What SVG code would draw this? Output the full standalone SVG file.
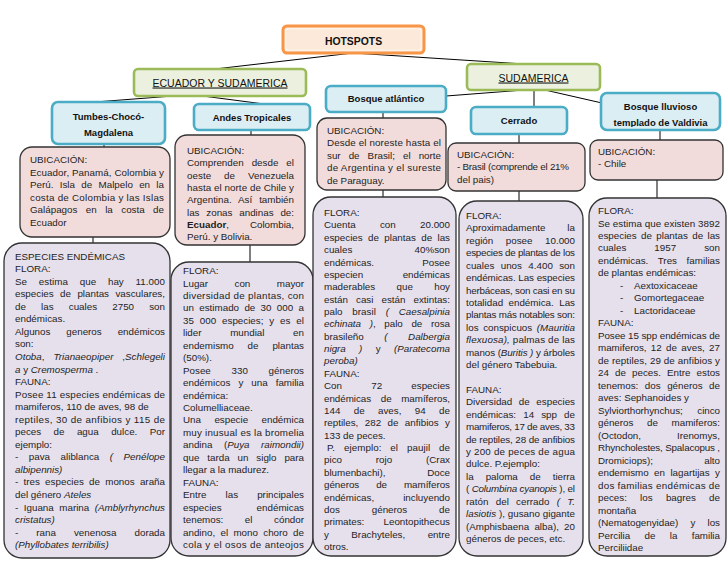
<svg xmlns="http://www.w3.org/2000/svg" width="728" height="563" viewBox="0 0 728 563">
<style>
.t{font-family:"Liberation Sans",Arial,sans-serif;font-size:9.8px;fill:#1e1e1e}
.i{font-style:italic}
.b{font-weight:bold}
.h{font-family:"Liberation Sans",Arial,sans-serif;font-size:9.5px;font-weight:bold;fill:#111;text-anchor:middle}
.g{font-family:"Liberation Sans",Arial,sans-serif;font-size:10.5px;fill:#111;text-anchor:middle;text-decoration:underline}
.blue{fill:#DBEEF4;stroke:#4BACC6;stroke-width:2.6}
.green{fill:#EBF1DE;stroke:#9BBB59;stroke-width:2.6}
.orange{fill:#FDE9D9;stroke:#F79646;stroke-width:3}
.pink{fill:#F2DCDB;stroke:#333;stroke-width:1.3}
.lil{fill:#E6E0EC;stroke:#333;stroke-width:1.3}
.c{stroke:#000;stroke-width:1;fill:none}
</style>
<defs>
<clipPath id="clipV"><rect x="601" y="93" width="119" height="34"/></clipPath>
</defs>
<rect width="728" height="563" fill="#fff"/>
<g id="connectors">
<path class="c" d="M353,53 L215,69 M353,53 L524,64 M186,95 L95,102 M195,95 L264,104 M524,90 L446,96 M534,90 L534,107 M545,90 L602,103"/>
<path class="c" d="M104,144 V147 M93,237 V243 M251,130 V135 M250,245 V262 M383,112 V118 M383,190 V197 M519,134 V143 M519,191 V201 M660,130 V140 M657,180 V198"/>
</g>
<g id="n-hotspots">
<rect class="orange" x="283" y="26" width="141" height="27" rx="4"/>
<rect x="285.8" y="28.8" width="135.4" height="21.4" rx="3" fill="none" stroke="#fff" stroke-width="0.8" opacity="0.8"/>
<text class="h" x="353.5" y="44.5" style="font-size:10.4px">HOTSPOTS</text>
</g>
<g id="n-ecuador">
<rect class="green" x="134" y="69" width="172" height="27" rx="4"/>
<text class="g" x="220" y="86.5">ECUADOR Y SUDAMERICA</text>
</g>
<g id="n-sudamerica">
<rect class="green" x="467" y="64" width="133" height="26" rx="4"/>
<text class="g" x="533.5" y="81.5">SUDAMERICA</text>
</g>
<g id="n-atlantico">
<rect class="blue" x="326" y="86" width="120" height="26" rx="5"/>
<text class="h" x="386" y="102">Bosque atlántico</text>
</g>
<g id="n-tumbes">
<rect class="blue" x="52" y="102" width="113" height="42" rx="6"/>
<text class="h" x="108.5" y="120">Tumbes-Chocó-</text>
<text class="h" x="108.5" y="136">Magdalena</text>
</g>
<g id="n-andes">
<rect class="blue" x="194" y="104" width="116" height="26" rx="5"/>
<text class="h" x="252" y="120.5">Andes Tropicales</text>
</g>
<g id="n-cerrado">
<rect class="blue" x="471" y="107" width="96" height="27" rx="5"/>
<text class="h" x="519" y="124">Cerrado</text>
</g>
<g id="n-valdivia">
<rect class="blue" x="601" y="93" width="119" height="37" rx="6"/>
<text class="h" x="660.5" y="109.5">Bosque lluvioso</text>
<text class="h" x="660.5" y="125.5" clip-path="url(#clipV)">templado de Valdivia</text>
</g>
<g id="n-tumbes-ubicacion">
<rect class="pink" x="20" y="147" width="150" height="90" rx="12"/>
<text class="t" x="30" y="163">UBICACIÓN:</text>
<text class="t" x="30" y="175.5" textLength="134" lengthAdjust="spacing">Ecuador, Panamá, Colombia y</text>
<text class="t" x="30" y="188" textLength="134" lengthAdjust="spacing" word-spacing="3.6">Perú. Isla de Malpelo en la</text>
<text class="t" x="30" y="200.5" textLength="134" lengthAdjust="spacing">costa de Colombia y las Islas</text>
<text class="t" x="30" y="213" textLength="134" lengthAdjust="spacing" word-spacing="5.7">Galápagos en la costa de</text>
<text class="t" x="30" y="225.5">Ecuador</text>
</g>
<g id="n-andes-ubicacion">
<rect class="pink" x="175" y="135" width="130" height="110" rx="12"/>
<text class="t" x="187" y="154">UBICACIÓN:</text>
<text class="t" x="187" y="166.3" textLength="107" lengthAdjust="spacing" word-spacing="5.3">Comprenden desde el</text>
<text class="t" x="187" y="178.6" textLength="107" lengthAdjust="spacing" word-spacing="10.2">oeste de Venezuela</text>
<text class="t" x="187" y="190.9" textLength="107" lengthAdjust="spacing">hasta el norte de Chile y</text>
<text class="t" x="187" y="203.2" textLength="107" lengthAdjust="spacing" word-spacing="4.2">Argentina. Así también</text>
<text class="t" x="187" y="215.5" textLength="107" lengthAdjust="spacing" word-spacing="4.1">las zonas andinas de:</text>
<text class="t" x="187" y="227.8"><tspan class="b">Ecuador</tspan>,</text>
<text class="t" x="294" y="227.8" text-anchor="end">Colombia,</text>
<text class="t" x="187" y="240.1">Perú. y Bolivia.</text>
</g>
<g id="n-atlantico-ubicacion">
<rect class="pink" x="317" y="118" width="129" height="72" rx="10"/>
<text class="t" x="327" y="134">UBICACIÓN:</text>
<text class="t" x="327" y="146.4" textLength="114" lengthAdjust="spacing">Desde el noreste hasta el</text>
<text class="t" x="327" y="158.8" textLength="114" lengthAdjust="spacing" word-spacing="5.3">sur de Brasil; el norte</text>
<text class="t" x="327" y="171.2" textLength="114" lengthAdjust="spacing">de Argentina y el sureste</text>
<text class="t" x="327" y="183.6">de Paraguay.</text>
</g>
<g id="n-cerrado-ubicacion">
<rect class="pink" x="448" y="143" width="137" height="48" rx="8"/>
<text class="t" x="457" y="158">UBICACIÓN:</text>
<text class="t" x="457" y="170.4" textLength="112" lengthAdjust="spacing">- Brasil (comprende el 21%</text>
<text class="t" x="457" y="182.8">del pais)</text>
</g>
<g id="n-valdivia-ubicacion">
<rect class="pink" x="590" y="140" width="133" height="40" rx="8"/>
<text class="t" x="598" y="155">UBICACIÓN:</text>
<text class="t" x="598" y="167.4">- Chile</text>
</g>
<g id="n-tumbes-especies">
<rect class="lil" x="4" y="243" width="166" height="315" rx="18"/>
<text class="t" x="15" y="259.5">ESPECIES ENDÉMICAS</text>
<text class="t" x="15" y="272.1">FLORA:</text>
<text class="t" x="15" y="284.6" textLength="150" lengthAdjust="spacing" word-spacing="9">Se estima que hay 11.000</text>
<text class="t" x="15" y="297.2" textLength="150" lengthAdjust="spacing" word-spacing="3.7">especies de plantas vasculares,</text>
<text class="t" x="15" y="309.7" textLength="150" lengthAdjust="spacing" word-spacing="12.4">de las cuales 2750 son</text>
<text class="t" x="15" y="322.3">endémicas.</text>
<text class="t" x="15" y="334.8" textLength="150" lengthAdjust="spacing" word-spacing="13.2">Algunos generos endémicos</text>
<text class="t" x="15" y="347.4">son:</text>
<text class="t" x="15" y="359.9" textLength="150" lengthAdjust="spacing" word-spacing="6.1"><tspan class="i">Otoba</tspan>, <tspan class="i">Trianaeopiper</tspan> ,<tspan class="i">Schlegeli</tspan></text>
<text class="t" x="15" y="372.5"><tspan class="i">a</tspan> y <tspan class="i">Cremosperma</tspan> .</text>
<text class="t" x="15" y="385">FAUNA:</text>
<text class="t" x="15" y="397.6" textLength="150" lengthAdjust="spacing">Posee 11 especies endémicas de</text>
<text class="t" x="15" y="410.1">mamiferos, 110 de aves, 98 de</text>
<text class="t" x="15" y="422.7" textLength="150" lengthAdjust="spacing">reptiles, 30 de anfibios y 115 de</text>
<text class="t" x="15" y="435.2" textLength="150" lengthAdjust="spacing" word-spacing="9.7">peces de agua dulce. Por</text>
<text class="t" x="15" y="447.8">ejemplo:</text>
<text class="t" x="15" y="460.3" textLength="150" lengthAdjust="spacing" word-spacing="7.8">- pava aliblanca <tspan class="i">( Penélope</tspan></text>
<text class="t i" x="15" y="472.9">albipennis)</text>
<text class="t" x="15" y="485.4" textLength="150" lengthAdjust="spacing" word-spacing="2.5">- tres especies de monos araña</text>
<text class="t" x="15" y="498">del género <tspan class="i">Ateles</tspan></text>
<text class="t" x="15" y="510.5" textLength="150" lengthAdjust="spacing" word-spacing="2.8">- Iguana marina <tspan class="i">(Amblyrhynchus</tspan></text>
<text class="t i" x="15" y="523.1">cristatus)</text>
<text class="t" x="15" y="535.6" textLength="150" lengthAdjust="spacing" word-spacing="15.3">- rana venenosa dorada</text>
<text class="t i" x="15" y="548.2">(Phyllobates terribilis)</text>
</g>
<g id="n-andes-flora">
<rect class="lil" x="171" y="262" width="142" height="294" rx="18"/>
<text class="t" x="183" y="274">FLORA:</text>
<text class="t" x="183" y="286.5" textLength="121" lengthAdjust="spacing" word-spacing="23.7">Lugar con mayor</text>
<text class="t" x="183" y="298.9" textLength="121" lengthAdjust="spacing">diversidad de plantas, con</text>
<text class="t" x="183" y="311.4" textLength="121" lengthAdjust="spacing" word-spacing="2.6">un estimado de 30 000 a</text>
<text class="t" x="183" y="323.8" textLength="121" lengthAdjust="spacing" word-spacing="3.2">35 000 especies; y es el</text>
<text class="t" x="183" y="336.3" textLength="121" lengthAdjust="spacing" word-spacing="25.9">lider mundial en</text>
<text class="t" x="183" y="348.7" textLength="121" lengthAdjust="spacing" word-spacing="11.2">endemismo de plantas</text>
<text class="t" x="183" y="361.2">(50%).</text>
<text class="t" x="183" y="373.6" textLength="121" lengthAdjust="spacing" word-spacing="18">Posee 330 géneros</text>
<text class="t" x="183" y="386.1" textLength="121" lengthAdjust="spacing" word-spacing="5.3">endémicos y una familia</text>
<text class="t" x="183" y="398.5">endémica:</text>
<text class="t" x="183" y="411">Columelliaceae.</text>
<text class="t" x="183" y="423.4" textLength="121" lengthAdjust="spacing" word-spacing="10.7">Una especie endémica</text>
<text class="t" x="183" y="435.9" textLength="121" lengthAdjust="spacing">muy inusual es la bromelia</text>
<text class="t" x="183" y="448.3" textLength="121" lengthAdjust="spacing" word-spacing="8.8">andina (<tspan class="i">Puya raimondii)</tspan></text>
<text class="t" x="183" y="460.8" textLength="121" lengthAdjust="spacing" word-spacing="5.2">que tarda un siglo para</text>
<text class="t" x="183" y="473.2">llegar a la madurez.</text>
<text class="t" x="183" y="485.7">FAUNA:</text>
<text class="t" x="183" y="498.1" textLength="121" lengthAdjust="spacing" word-spacing="16.4">Entre las principales</text>
<text class="t" x="183" y="510.6" textLength="121" lengthAdjust="spacing" word-spacing="32.2">especies endémicas</text>
<text class="t" x="183" y="523" textLength="121" lengthAdjust="spacing" word-spacing="18.8">tenemos: el cóndor</text>
<text class="t" x="183" y="535.5" textLength="121" lengthAdjust="spacing" word-spacing="2.6">andino, el mono choro de</text>
<text class="t" x="183" y="547.9" textLength="121" lengthAdjust="spacing">cola y el osos de anteojos</text>
</g>
<g id="n-atlantico-flora">
<rect class="lil" x="313" y="197" width="143" height="359" rx="18"/>
<text class="t" x="324" y="216">FLORA:</text>
<text class="t" x="324" y="228.4" textLength="126" lengthAdjust="spacing" word-spacing="21.6">Cuenta con 20.000</text>
<text class="t" x="324" y="240.7" textLength="126" lengthAdjust="spacing" word-spacing="2.6">especies de plantas de las</text>
<text class="t" x="324" y="253.1" textLength="126" lengthAdjust="spacing" word-spacing="59.5">cuales 40%son</text>
<text class="t" x="324" y="265.5" textLength="126" lengthAdjust="spacing" word-spacing="45.4">endémicas. Posee</text>
<text class="t" x="324" y="277.9" textLength="126" lengthAdjust="spacing" word-spacing="36.7">especien endémicas</text>
<text class="t" x="324" y="290.2" textLength="126" lengthAdjust="spacing" word-spacing="18.6">maderables que hoy</text>
<text class="t" x="324" y="302.6" textLength="126" lengthAdjust="spacing" word-spacing="5.3">están casi están extintas:</text>
<text class="t" x="324" y="315" textLength="126" lengthAdjust="spacing" word-spacing="7.1">palo brasil <tspan class="i">( Caesalpinia</tspan></text>
<text class="t" x="324" y="327.3" textLength="126" lengthAdjust="spacing" word-spacing="5.9"><tspan class="i">echinata )</tspan>, palo de rosa</text>
<text class="t" x="324" y="339.7" textLength="126" lengthAdjust="spacing" word-spacing="17.8">brasileño <tspan class="i">( Dalbergia</tspan></text>
<text class="t" x="324" y="352.1" textLength="126" lengthAdjust="spacing" word-spacing="10.6"><tspan class="i">nigra )</tspan> y <tspan class="i">(Paratecoma</tspan></text>
<text class="t i" x="324" y="364.4">peroba)</text>
<text class="t" x="324" y="376.8">FAUNA:</text>
<text class="t" x="324" y="389.2" textLength="126" lengthAdjust="spacing" word-spacing="26.5">Con 72 especies</text>
<text class="t" x="324" y="401.6" textLength="126" lengthAdjust="spacing" word-spacing="6.9">endémicas de mamíferos,</text>
<text class="t" x="324" y="413.9" textLength="126" lengthAdjust="spacing" word-spacing="10.6">144 de aves, 94 de</text>
<text class="t" x="324" y="426.3" textLength="126" lengthAdjust="spacing" word-spacing="3.7">reptiles, 282 de anfibios y</text>
<text class="t" x="324" y="438.7">133 de peces.</text>
<text class="t" x="327" y="451" textLength="123" lengthAdjust="spacing" word-spacing="6.1">P. ejemplo: el paujil de</text>
<text class="t" x="324" y="463.4" textLength="126" lengthAdjust="spacing" word-spacing="31.1">pico rojo (Crax</text>
<text class="t" x="324" y="475.8" textLength="126" lengthAdjust="spacing" word-spacing="38.9">blumenbachi), Doce</text>
<text class="t" x="324" y="488.1" textLength="126" lengthAdjust="spacing" word-spacing="14.3">géneros de mamíferos</text>
<text class="t" x="324" y="500.5" textLength="126" lengthAdjust="spacing" word-spacing="26.3">endémicas, incluyendo</text>
<text class="t" x="324" y="512.9" textLength="126" lengthAdjust="spacing" word-spacing="29.2">dos géneros de</text>
<text class="t" x="324" y="525.3" textLength="126" lengthAdjust="spacing" word-spacing="16.5">primates: Leontopithecus</text>
<text class="t" x="324" y="537.6" textLength="126" lengthAdjust="spacing" word-spacing="19.7">y Brachyteles, entre</text>
<text class="t" x="324" y="550">otros.</text>
</g>
<g id="n-cerrado-flora">
<rect class="lil" x="459" y="201" width="124" height="355" rx="18"/>
<text class="t" x="466" y="219">FLORA:</text>
<text class="t" x="466" y="231.4" textLength="109" lengthAdjust="spacing" word-spacing="19.1">Aproximadamente la</text>
<text class="t" x="466" y="243.8" textLength="109" lengthAdjust="spacing" word-spacing="9.8">región posee 10.000</text>
<text class="t" x="466" y="256.3" textLength="109" lengthAdjust="spacing">especies de plantas de los</text>
<text class="t" x="466" y="268.7" textLength="109" lengthAdjust="spacing" word-spacing="3.6">cuales unos 4.400 son</text>
<text class="t" x="466" y="281.1" textLength="109" lengthAdjust="spacing">endémicas. Las especies</text>
<text class="t" x="466" y="293.5" textLength="109" lengthAdjust="spacing">herbáceas, son casi en su</text>
<text class="t" x="466" y="305.9" textLength="109" lengthAdjust="spacing" word-spacing="2.7">totalidad endémica. Las</text>
<text class="t" x="466" y="318.4" textLength="109" lengthAdjust="spacing">plantas más notables son:</text>
<text class="t" x="466" y="330.8" textLength="109" lengthAdjust="spacing" word-spacing="1.9">los conspicuos <tspan class="i">(Mauritia</tspan></text>
<text class="t" x="466" y="343.2" textLength="109" lengthAdjust="spacing"><tspan class="i">flexuosa),</tspan> palmas de las</text>
<text class="t" x="466" y="355.6" textLength="109" lengthAdjust="spacing">manos (<tspan class="i">Buritis )</tspan> y árboles</text>
<text class="t" x="466" y="368">del género Tabebuia.</text>
<text class="t" x="466" y="392.9">FAUNA:</text>
<text class="t" x="466" y="405.3" textLength="109" lengthAdjust="spacing" word-spacing="3.9">Diversidad de especies</text>
<text class="t" x="466" y="417.7" textLength="109" lengthAdjust="spacing" word-spacing="4.4">endémicas: 14 spp de</text>
<text class="t" x="466" y="430.1" textLength="109" lengthAdjust="spacing">mamiferos, 17 de aves, 33</text>
<text class="t" x="466" y="442.6" textLength="109" lengthAdjust="spacing">de reptiles, 28 de anfibios</text>
<text class="t" x="466" y="455" textLength="109" lengthAdjust="spacing">y 200 de peces de agua</text>
<text class="t" x="466" y="467.4">dulce. P.ejemplo:</text>
<text class="t" x="466" y="479.8" textLength="109" lengthAdjust="spacing" word-spacing="9.3">la paloma de tierra</text>
<text class="t" x="466" y="492.2" textLength="109" lengthAdjust="spacing">( <tspan class="i">Columbina cyanopis</tspan> ), el</text>
<text class="t" x="466" y="504.7" textLength="109" lengthAdjust="spacing" word-spacing="4.4">ratón del cerrado <tspan class="i">( T.</tspan></text>
<text class="t" x="466" y="517.1" textLength="109" lengthAdjust="spacing"><tspan class="i">lasiotis</tspan> ), gusano gigante</text>
<text class="t" x="466" y="529.5" textLength="109" lengthAdjust="spacing" word-spacing="2.5">(Amphisbaena alba), 20</text>
<text class="t" x="466" y="541.9">géneros de peces, etc.</text>
</g>
<g id="n-valdivia-flora">
<rect class="lil" x="589" y="198" width="137" height="358" rx="18"/>
<text class="t" x="598" y="214">FLORA:</text>
<text class="t" x="598" y="226.5" textLength="122" lengthAdjust="spacing">Se estima que existen 3892</text>
<text class="t" x="598" y="239" textLength="122" lengthAdjust="spacing" word-spacing="1.6">especies de plantas de las</text>
<text class="t" x="598" y="251.4" textLength="122" lengthAdjust="spacing" word-spacing="25.3">cuales 1957 son</text>
<text class="t" x="598" y="263.9" textLength="122" lengthAdjust="spacing" word-spacing="6.8">endémicas. Tres familias</text>
<text class="t" x="598" y="276.4">de plantas endémicas:</text>
<text class="t" x="620" y="288.9">-</text><text class="t" x="634" y="288.9">Aextoxicaceae</text>
<text class="t" x="620" y="301.4">-</text><text class="t" x="634" y="301.4">Gomortegaceae</text>
<text class="t" x="620" y="313.8">-</text><text class="t" x="634" y="313.8">Lactoridaceae</text>
<text class="t" x="598" y="326.3">FAUNA:</text>
<text class="t" x="598" y="338.8" textLength="122" lengthAdjust="spacing">Posee 15 spp endémicas de</text>
<text class="t" x="598" y="351.3" textLength="122" lengthAdjust="spacing" word-spacing="1.6">mamiferos, 12 de aves, 27</text>
<text class="t" x="598" y="363.8" textLength="122" lengthAdjust="spacing">de reptiles, 29 de anfibios y</text>
<text class="t" x="598" y="376.2" textLength="122" lengthAdjust="spacing" word-spacing="3.4">24 de peces. Entre estos</text>
<text class="t" x="598" y="388.7" textLength="122" lengthAdjust="spacing" word-spacing="3.8">tenemos: dos géneros de</text>
<text class="t" x="598" y="401.2">aves: Sephanoides y</text>
<text class="t" x="598" y="413.7" textLength="122" lengthAdjust="spacing" word-spacing="11.9">Sylviorthorhynchus; cinco</text>
<text class="t" x="598" y="426.2" textLength="122" lengthAdjust="spacing" word-spacing="10.9">géneros de mamiferos:</text>
<text class="t" x="598" y="438.6" textLength="122" lengthAdjust="spacing" word-spacing="33.2">(Octodon, Irenomys,</text>
<text class="t" x="598" y="451.1" textLength="122" lengthAdjust="spacing">Rhyncholestes, Spalacopus ,</text>
<text class="t" x="598" y="463.6" textLength="122" lengthAdjust="spacing" word-spacing="48.5">Dromiciops); alto</text>
<text class="t" x="598" y="476.1" textLength="122" lengthAdjust="spacing" word-spacing="2.7">endemismo en lagartijas y</text>
<text class="t" x="598" y="488.6" textLength="122" lengthAdjust="spacing">dos familias endémicas de</text>
<text class="t" x="598" y="501" textLength="122" lengthAdjust="spacing" word-spacing="10.5">peces: los bagres de</text>
<text class="t" x="598" y="513.5">montaña</text>
<text class="t" x="598" y="526" textLength="122" lengthAdjust="spacing" word-spacing="9.5">(Nematogenyidae) y los</text>
<text class="t" x="598" y="538.5" textLength="122" lengthAdjust="spacing" word-spacing="11.6">Percilia de la familia</text>
<text class="t" x="598" y="551">Perciliidae</text>
</g>
</svg>
